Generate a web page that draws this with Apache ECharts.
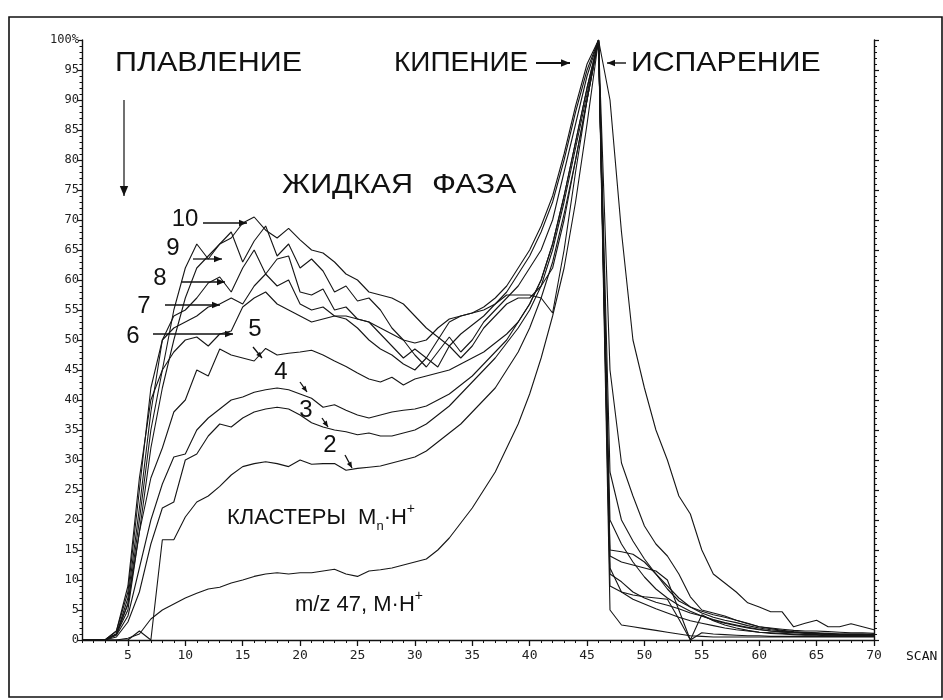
<!DOCTYPE html>
<html><head><meta charset="utf-8">
<script src="https://cdn.jsdelivr.net/npm/echarts@6/dist/echarts.min.js"></script>
<style>html,body{margin:0;padding:0;background:#fff}#c{width:943px;height:700px}</style>
</head><body><div id="c"></div>
<script>
// ---- data ----
const scans = [1,2,3,4,5,6,7,8,9,10,11,12,13,14,15,16,17,18,19,20,21,22,23,24,25,26,27,28,29,30,31,32,33,34,35,36,37,38,39,40,41,42,43,44,45,46,47,48,49,50,51,52,53,54,55,56,57,58,59,60,61,62,63,64,65,66,67,68,69,70];
const xTickLabels = [5,10,15,20,25,30,35,40,45,50,55,60,65,70];
const yTickLabels = ['0','5','10','15','20','25','30','35','40','45','50','55','60','65','70','75','80','85','90','95','100%'];

const mz47 = [
0,0,0,0,0.3,1,3.5,5,6,7,
7.8,8.5,8.8,9.5,10,10.6,11,11.2,11,11.2,
11.2,11.5,11.8,11,10.6,11.5,11.7,12,12.5,13,
13.5,15,17,19.5,22,25,28,32,36,41,
47,54,62,73,86,100,90,68,50,42,
35,30,24,21,15,11,9.5,8,6.2,5.5,
4.7,4.7,2.2,2.8,3.3,2.2,2.2,2.7,2.2,1.7];
const n2 = [
0,0,0,0,0,1.5,0,16.7,16.7,20.5,
23,24,25.6,27.5,28.9,29.4,29.7,29.4,28.9,30,
29.3,29.4,29.4,28.3,28.6,28.8,29,29.5,30,30.5,
31.5,33,34.5,36,38,40,42,45,48,52,
57,63,71,80,90,100,45,29.5,24,19,
16,14,11,7.2,5,4.5,4,3.3,2.8,2.2,
2,1.8,1.6,1.5,1.5,1.4,1.3,1.2,1.2,1.1];
const n3 = [
0,0,0,0.5,3,8,16,22,23,30,
31,34,36,35.5,37,38,38.5,38.8,38.5,37.5,
36.2,35.5,35,34.7,34.2,34.5,34,34,34.5,35,
36,37.5,39,41,43,45,47,49.5,52,55,
59,65,73,82,91,100,28,20,16.5,13.5,
11,8.5,6.5,5.5,4.8,4.2,3.8,3.3,2.7,2.2,
1.9,1.6,1.4,1.3,1.2,1.1,1,1,1,0.9];
const n4 = [
0,0,0,0.8,4,12,20,26,30.5,31,
35,37,38.5,40,40.5,41.3,41.7,42,41.7,41,
40.3,38.8,39.2,38.3,37.5,37,37.5,38,38.3,38.5,
39,40,41,42.5,44,46,48,50,53,56,
60,66,74,83,92,100,20,16,13,10.5,
8.5,7,5.8,4.8,4,3.3,2.8,2.4,2,1.7,
1.5,1.4,1.3,1.2,1.1,1,1,1,1,0.9];
const n5 = [
0,0,0,1,6,18,27,32,38,40,
45,44,48.5,47.5,47,46.5,48.6,47.5,47.8,48,
48.3,47.5,46.5,45.6,44.5,43.5,43,43.8,42.5,43.5,
44,44.5,45,46,47,48,49.5,51,53,56,
60,66,74,83,92,100,15,14.7,14.3,13,
11,9,7,5.5,4.5,3.8,3.3,2.9,2.4,2,
1.7,1.5,1.3,1.2,1.1,1,0.9,0.9,0.9,0.8];
const n6 = [
0,0,0,1.5,9,27,40,45,48,50,
50.5,49,51,51.5,55.5,57,58,56,55,54,
53,53.5,54,54,53.5,53,52,51,50,49.5,
50,52,53.5,54,54.5,55,56,57.5,57.5,57.5,
57,54.5,65,78,90,100,11,9.7,8,7,
6.3,5.8,5.2,4.5,4,3.4,2.9,2.5,2.1,1.8,
1.5,1.3,1.2,1.1,1,0.9,0.9,0.8,0.8,0.8];
const n7 = [
0,0,0,1.5,8,25,42,50,52,53,
54,55.5,56,57,56,59,61,59,60,56,
55,55.5,54,53.5,52,50,48.5,47.5,46,45,
47,50,53,54,54.5,55.5,57,59,62,65,
69,74,81,89,96,100,12,8,6.8,6,
5.2,4.5,3.8,3.2,2.8,2.4,2,1.7,1.5,1.3,
1.2,1.1,1,0.9,0.9,0.8,0.8,0.8,0.8,0.8];
const n8 = [
0,0,0,1,7,22,38,50,54,55,
57,59.5,60.5,58,62,65,61,63.5,64,58,
57.5,58.5,55,55.5,53.5,53,51,49,47,48.5,
47,45.5,49,51,52.5,54,56,58,61,64,
68,73,80,88,95,100,14,13,12.5,12,
11.5,10,5,0,4.2,3.2,2.5,2,1.6,1.3,
1.1,1,0.9,0.8,0.8,0.7,0.7,0.7,0.7,0.6];
const n9 = [
0,0,0,1,6,20,35,45,55,62,
66,63.5,66,68,63,66.5,69,64,66,62,
63.5,61.5,58,59,56.5,57,55,52,50,47.5,
45.5,48,50.5,48,50,53,55,57,59,62,
65,70,78,86,94,100,9,8,7.5,7.2,
7,6.8,3.5,0,1.2,1,0.9,0.8,0.7,0.7,
0.6,0.6,0.6,0.6,0.6,0.6,0.6,0.6,0.6,0.6];
const n10 = [
0,0,0,1,5,18,32,42,50,57,
62,64,66,67,69.5,70.5,68.3,67,68.6,66.7,
65,64.5,63,61,60,58,57.5,57,56,54,
52,50.5,49,47,49,52,54,56,57,57,
59,62,70,80,90,100,5,2.5,2.2,1.9,
1.6,1.3,1,0.7,0.6,0.5,0.5,0.5,0.5,0.5,
0.5,0.5,0.5,0.5,0.5,0.5,0.5,0.5,0.5,0.5];

const seriesList = [
  ['m/z 47', mz47], ['n=2', n2], ['n=3', n3], ['n=4', n4], ['n=5', n5],
  ['n=6', n6], ['n=7', n7], ['n=8', n8], ['n=9', n9], ['n=10', n10]
];

// ---- annotation helpers ----
const FAM = '"Liberation Sans", Arial, sans-serif';
const MONO = '"DejaVu Sans Mono", monospace';
const meas = document.createElement('canvas').getContext('2d');
function tw(str, size, fam) { meas.font = size + 'px ' + fam; return meas.measureText(str).width; }
const gfx = [];
function T(x, y, str, size, fam, align, sx) {
  gfx.push({type: 'text', x: x, y: y, scaleX: sx || 1, silent: true, z: 10,
    style: {text: str, fontSize: size, fontFamily: fam || FAM, fill: '#111',
      textAlign: align || 'left', textVerticalAlign: 'middle', verticalAlign: 'middle'}});
}
function runs(x, y, list) {
  let cx = x;
  list.forEach(r => { T(cx, y + (r[2] || 0), r[0], r[1]); cx += tw(r[0], r[1], FAM) + (r[3] || 0); });
}
function arrow(x1, y1, x2, y2, head, lw) {
  gfx.push({type: 'line', silent: true, z: 10, shape: {x1: x1, y1: y1, x2: x2, y2: y2},
    style: {stroke: '#111', lineWidth: lw || 1.3}});
  const a = Math.atan2(y2 - y1, x2 - x1), h = head || 7, w = h * 0.42;
  const p = [[x2, y2],
    [x2 - h * Math.cos(a) + w * Math.sin(a), y2 - h * Math.sin(a) - w * Math.cos(a)],
    [x2 - h * Math.cos(a) - w * Math.sin(a), y2 - h * Math.sin(a) + w * Math.cos(a)]];
  gfx.push({type: 'polygon', silent: true, z: 10, shape: {points: p}, style: {fill: '#111'}});
}

// frame
gfx.push({type: 'rect', silent: true, z: 1, shape: {x: 9, y: 17, width: 933, height: 680},
  style: {fill: 'none', stroke: '#111', lineWidth: 1.6}});

// headers
T(115, 63, 'ПЛАВЛЕНИЕ', 28, FAM, 'left', 1.09);
T(394, 63, 'КИПЕНИЕ', 28, FAM, 'left', 1.0);
arrow(536, 63, 570, 63, 9, 1.8);
arrow(626, 63, 607, 63, 8, 1.4);
T(631, 63, 'ИСПАРЕНИЕ', 28, FAM, 'left', 1.08);
T(282, 185, 'ЖИДКАЯ', 28, FAM, 'left', 1.09);
T(432, 185, 'ФАЗА', 28, FAM, 'left', 1.13);
arrow(124, 100, 124, 196, 10, 1.2);

// cluster number labels
T(185, 219, '10', 24, FAM, 'center'); arrow(203, 223, 247, 223, 8);
T(173, 248, '9', 24, FAM, 'center');  arrow(193, 259, 222, 259, 8);
T(160, 278, '8', 24, FAM, 'center');  arrow(182, 282, 225, 282, 8);
T(144, 306, '7', 24, FAM, 'center');  arrow(165, 305, 220, 305, 8);
T(133, 336, '6', 24, FAM, 'center');  arrow(153, 334, 233, 334, 8);
T(255, 329, '5', 24, FAM, 'center');  arrow(253, 347, 262, 358, 6);
T(281, 372, '4', 24, FAM, 'center');  arrow(300, 382, 307, 392, 6);
T(306, 410, '3', 24, FAM, 'center');  arrow(322, 418, 328, 427, 6);
T(330, 445, '2', 24, FAM, 'center');  arrow(345, 455, 352, 468, 6);

// captions
runs(227, 518, [['КЛАСТЕРЫ  M', 22], ['n', 13, 8], ['·H', 22], ['+', 14, -9]]);
runs(295, 605, [['m/z 47, M·H', 22], ['+', 14, -9]]);
T(906, 657, 'SCAN', 13, MONO);

const axisColor = '#111';
const option = {
  animation: false,
  backgroundColor: '#fff',
  grid: {left: 82, right: 69, top: 40, bottom: 60, containLabel: false},
  xAxis: [
    {type: 'value', min: 1, max: 70, position: 'bottom',
      axisLine: {show: true, onZero: false, lineStyle: {color: axisColor, width: 1.4}},
      axisTick: {show: true, customValues: xTickLabels, length: 6, lineStyle: {color: axisColor, width: 1.3}},
      axisLabel: {show: true, customValues: xTickLabels, color: '#222', fontFamily: MONO, fontSize: 13, margin: 9},
      splitLine: {show: false}},
    {type: 'value', min: 1, max: 70, position: 'bottom',
      axisLine: {show: false},
      axisTick: {show: true, customValues: scans, length: 3, lineStyle: {color: axisColor, width: 1}},
      axisLabel: {show: false}, splitLine: {show: false}}
  ],
  yAxis: [
    {type: 'value', min: 0, max: 100, interval: 5, position: 'left',
      axisLine: {show: true, lineStyle: {color: axisColor, width: 1.4}},
      axisTick: {show: true, length: 4, lineStyle: {color: axisColor, width: 1.2}},
      minorTick: {show: true, splitNumber: 5, length: 2.5, lineStyle: {color: axisColor, width: 1}},
      axisLabel: {color: '#222', fontFamily: MONO, fontSize: 12, margin: 3,
        formatter: (v) => yTickLabels[Math.round(v / 5)]},
      splitLine: {show: false}},
    {type: 'value', min: 0, max: 100, interval: 5, position: 'right',
      axisLine: {show: true, lineStyle: {color: axisColor, width: 1.4}},
      axisTick: {show: true, length: 5, lineStyle: {color: axisColor, width: 1.2}},
      minorTick: {show: true, splitNumber: 5, length: 3, lineStyle: {color: axisColor, width: 1}},
      axisLabel: {show: false}, splitLine: {show: false}}
  ],
  series: seriesList.map(s => ({
    type: 'line', name: s[0], xAxisIndex: 0, yAxisIndex: 0,
    data: scans.map((x, i) => [x, s[1][i]]),
    symbol: 'none', showSymbol: false, silent: true, z: 3,
    lineStyle: {color: '#161616', width: 1.1}
  })),
  graphic: {elements: gfx}
};
const chart = echarts.init(document.getElementById('c'));
chart.setOption(option);
</script>
</body></html>
